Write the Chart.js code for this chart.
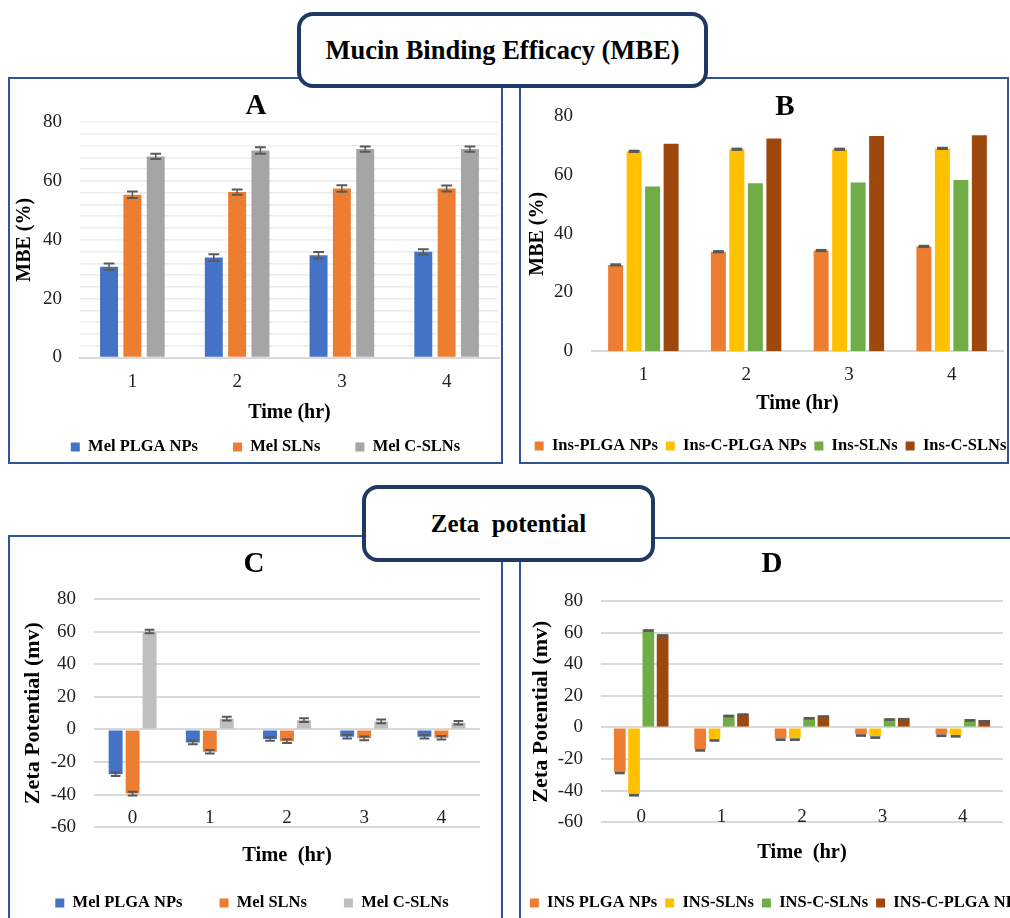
<!DOCTYPE html>
<html><head><meta charset="utf-8">
<script src="https://cdn.jsdelivr.net/npm/chart.js@4.4.1/dist/chart.umd.min.js"></script>
<style>
html,body{margin:0;padding:0;width:1010px;height:918px;overflow:hidden;background:#fff;}
.frame{position:absolute;border:2px solid #2F5597;box-sizing:border-box;z-index:1;}
.tbox{position:absolute;box-sizing:border-box;border:4px solid #1F3864;border-radius:16px;background:#fff;display:flex;align-items:center;justify-content:center;font-family:'Liberation Serif','Times New Roman',serif;font-weight:bold;color:#000;white-space:pre;z-index:5;}
canvas{position:absolute;z-index:2;}
</style></head><body>
<div class="frame" style="left:8px;top:77px;width:495px;height:387px"></div>
<div class="frame" style="left:519px;top:77px;width:490px;height:387px"></div>
<div class="frame" style="left:8px;top:535px;width:495px;height:420px"></div>
<div class="frame" style="left:519px;top:537px;width:560px;height:420px"></div>
<div class="tbox" style="left:297px;top:12px;width:411px;height:76px;font-size:26.5px">Mucin Binding Efficacy (MBE)</div>
<div class="tbox" style="left:362px;top:485px;width:293px;height:77px;font-size:25px">Zeta  potential</div>
<canvas id="cA"></canvas>
<canvas id="cB"></canvas>
<canvas id="cC"></canvas>
<canvas id="cD"></canvas>
<script>
const FONT = "'Liberation Serif', 'Times New Roman', Times, serif";

// ---- Panel A : Mucin binding efficacy, Mel formulations ----
const timeA = ['1', '2', '3', '4'];
const melPlgaMBE = [30.8, 34.0, 34.7, 35.9];
const melPlgaMBEErr = [1.1, 1.1, 1.1, 0.9];
const melSlnMBE = [55.3, 56.2, 57.4, 57.4];
const melSlnMBEErr = [1.1, 0.9, 1.1, 1.0];
const melCslnMBE = [68.3, 70.3, 70.8, 70.8];
const melCslnMBEErr = [0.9, 1.1, 0.9, 0.9];

// ---- Panel B : Mucin binding efficacy, Ins formulations ----
const timeB = ['1', '2', '3', '4'];
const insPlgaMBE = [29.4, 33.9, 34.3, 35.7];
const insPlgaMBEErr = [0.55, 0.55, 0.55, 0.55];
const insCPlgaMBE = [68.1, 68.8, 68.8, 69.1];
const insCPlgaMBEErr = [0.55, 0.55, 0.55, 0.55];
const insSlnMBE = [56.1, 57.2, 57.5, 58.3];
const insCSlnMBE = [70.7, 72.5, 73.3, 73.6];

// ---- Panel C : Zeta potential, Mel formulations ----
const timeC = ['0', '1', '2', '3', '4'];
const melPlgaZeta = [-27.5, -8.0, -5.9, -4.5, -4.5];
const melPlgaZetaErr = [1.1, 1.1, 1.1, 1.1, 1.1];
const melSlnZeta = [-39.4, -13.7, -7.2, -5.5, -5.1];
const melSlnZetaErr = [1.1, 1.1, 1.1, 1.1, 1.1];
const melCslnZeta = [60.1, 6.6, 5.7, 4.9, 4.1];
const melCslnZetaErr = [1.1, 1.1, 1.1, 1.1, 1.1];

// ---- Panel D : Zeta potential, INS formulations ----
const timeD = ['0', '1', '2', '3', '4'];
const insPlgaZeta = [-28.0, -13.7, -6.9, -4.3, -4.4];
const insSlnZeta = [-42.1, -7.4, -6.9, -5.6, -4.8];
const insCSlnZeta = [62.1, 8.0, 6.6, 5.8, 5.3];
const insCPlgaZeta = [58.9, 8.8, 7.6, 6.0, 4.7];
const zetaErrD = [1.7, 1.7, 1.7, 1.7, 1.7];

const C_BLUE = '#4472C4', C_ORANGE = '#ED7D31', C_GRAY = '#A5A5A5', C_LGRAY = '#BFBFBF';
const C_YELLOW = '#FFC000', C_GREEN = '#70AD47', C_BROWN = '#9E480E';

const errorBarPlugin = {
  id: 'errorBars',
  afterDatasetsDraw(chart) {
    const ctx = chart.ctx, ys = chart.scales.y;
    chart.data.datasets.forEach((ds, di) => {
      if (!ds.errors) return;
      const meta = chart.getDatasetMeta(di);
      meta.data.forEach((bar, i) => {
        const v = ds.data[i], e = ds.errors[i], w = bar.width;
        ctx.save();
        ctx.strokeStyle = '#595959';
        ctx.fillStyle = '#595959';
        if (ds.errStyle === 'cap') {
          const y1 = ys.getPixelForValue(v + e), y2 = ys.getPixelForValue(v - e);
          const cw = w * ds.capFrac;
          ctx.lineWidth = 1.5;
          ctx.beginPath(); ctx.moveTo(bar.x, y1); ctx.lineTo(bar.x, y2); ctx.stroke();
          ctx.lineWidth = 2;
          ctx.beginPath();
          ctx.moveTo(bar.x - cw / 2, y1); ctx.lineTo(bar.x + cw / 2, y1);
          ctx.moveTo(bar.x - cw / 2, y2); ctx.lineTo(bar.x + cw / 2, y2);
          ctx.stroke();
        } else if (ds.errStyle === 'block') {
          const y1 = ys.getPixelForValue(v + e), y2 = ys.getPixelForValue(v - e);
          const cw = w * ds.capFrac;
          ctx.fillRect(bar.x - cw / 2, Math.min(y1, y2), cw, Math.abs(y2 - y1));
        } else if (ds.errStyle === 'minus') {
          const y1 = ys.getPixelForValue(v), y2 = ys.getPixelForValue(v - e);
          const cw = w * ds.capFrac;
          ctx.fillRect(bar.x - cw / 2, Math.min(y1, y2), cw, Math.abs(y2 - y1));
        }
        ctx.restore();
      });
    });
  }
};

// moves legend / title blocks after layout (does not change the chart area)
const blockNudge = {
  id: 'blockNudge',
  afterLayout(chart, args, opts) {
    const lg = chart.legend;
    if (lg) {
      const h = lg.bottom - lg.top;
      lg.top = opts.legendTop; lg.bottom = opts.legendTop + h;
      lg.left += opts.legendDx; lg.right += opts.legendDx;
    }
    const tb = chart.titleBlock;
    if (tb) { tb.left += opts.titleDx; tb.right += opts.titleDx; }
  }
};

function makePanel(p) {
  const cv = document.getElementById(p.id);
  const itemH = Math.max(p.legFont, p.legBox);
  const legH = itemH + p.legPad + 10;
  const extra = 40;
  cv.width = p.w;
  cv.height = Math.round(p.areaBottom - p.top + p.xHeight + legH + extra);
  cv.style.left = p.left + 'px';
  cv.style.top = p.top + 'px';
  return new Chart(cv, {
    type: 'bar',
    data: {
      labels: p.labels,
      datasets: p.datasets.map(d => Object.assign({
        borderWidth: 0,
        categoryPercentage: p.catPct,
        barPercentage: p.barPct
      }, d))
    },
    options: {
      responsive: false,
      animation: false,
      devicePixelRatio: 1,
      layout: { padding: { top: 0, left: 0, right: 0, bottom: extra } },
      plugins: {
        title: {
          display: true, text: p.title, color: '#000',
          font: { family: FONT, size: 29, weight: 'bold' },
          padding: { top: p.titlePadTop, bottom: p.titlePadBottom }
        },
        legend: {
          position: 'bottom',
          labels: {
            color: '#000', boxWidth: p.legBox, boxHeight: p.legBox, padding: p.legPad,
            font: { family: FONT, size: p.legFont, weight: 'bold' }
          }
        },
        tooltip: { enabled: false },
        blockNudge: { legendTop: p.legCy - p.top - p.legPad - itemH / 2, legendDx: p.legDx, titleDx: p.titleDx }
      },
      scales: {
        x: {
          afterFit: s => { s.height = p.xHeight; },
          ticks: { padding: p.xTickPad, mirror: p.xMirror, color: '#222', font: { family: FONT, size: 19 }, autoSkip: false, maxRotation: 0 },
          grid: { display: false, drawTicks: false },
          border: { display: p.xBorder, color: '#D9D9D9', width: 2 },
          title: {
            display: true, text: p.xTitle, color: '#000',
            font: { family: FONT, size: p.xTitleSize, weight: 'bold' },
            padding: { top: 0, bottom: 0 }
          }
        },
        y: {
          min: p.yMin, max: p.yMax,
          afterFit: s => { s.width = p.yWidth; },
          ticks: {
            stepSize: p.yStep, autoSkip: false, padding: p.yTickPad, color: '#222',
            font: { family: FONT, size: 19 },
            callback: v => (v % p.labelEvery === 0 ? v : '')
          },
          grid: { display: p.gridShow, color: p.gridColor, lineWidth: p.gridWidth, drawTicks: false },
          border: { display: false },
          title: {
            display: true, text: p.yTitle, color: '#000',
            font: { family: FONT, size: p.yTitleSize, weight: 'bold' },
            padding: { top: p.yTitlePad, bottom: 0 }
          }
        },
        pad: {
          type: 'linear', position: 'right', display: true,
          afterFit: s => { s.width = p.rightWidth; },
          ticks: { display: false },
          grid: { display: false, drawTicks: false },
          border: { display: false }
        }
      }
    },
    plugins: [errorBarPlugin, blockNudge]
  });
}

// Panel A
makePanel({
  id: 'cA', left: 10, top: 86, w: 520, areaBottom: 357,
  labels: timeA,
  datasets: [
    { label: 'Mel PLGA NPs', data: melPlgaMBE, errors: melPlgaMBEErr, errStyle: 'cap', capFrac: 0.6, backgroundColor: C_BLUE },
    { label: 'Mel SLNs', data: melSlnMBE, errors: melSlnMBEErr, errStyle: 'cap', capFrac: 0.6, backgroundColor: C_ORANGE },
    { label: 'Mel C-SLNs', data: melCslnMBE, errors: melCslnMBEErr, errStyle: 'cap', capFrac: 0.6, backgroundColor: C_GRAY }
  ],
  catPct: 0.668, barPct: 0.77,
  title: 'A', titlePadTop: 3.6, titlePadBottom: -2.4, titleDx: -14,
  yMin: 0, yMax: 80, yStep: 4, labelEvery: 20, gridShow: true, gridColor: '#ECECEC', gridWidth: 1.5,
  yWidth: 70, rightWidth: 31, yTickPad: 18, yTitle: 'MBE (%)', yTitleSize: 20, yTitlePad: 3,
  xHeight: 67, xTickPad: 13.6, xMirror: false, xBorder: true, xTitle: 'Time (hr)', xTitleSize: 20,
  legFont: 16.5, legBox: 9, legPad: 35, legCy: 447, legDx: -4.5
});

// Panel B
makePanel({
  id: 'cB', left: 522, top: 86, w: 540, areaBottom: 351,
  labels: timeB,
  datasets: [
    { label: 'Ins-PLGA NPs', data: insPlgaMBE, errors: insPlgaMBEErr, errStyle: 'block', capFrac: 0.72, backgroundColor: C_ORANGE },
    { label: 'Ins-C-PLGA NPs', data: insCPlgaMBE, errors: insCPlgaMBEErr, errStyle: 'block', capFrac: 0.72, backgroundColor: C_YELLOW },
    { label: 'Ins-SLNs', data: insSlnMBE, backgroundColor: C_GREEN },
    { label: 'Ins-C-SLNs', data: insCSlnMBE, backgroundColor: C_BROWN }
  ],
  catPct: 0.72, barPct: 0.81,
  title: 'B', titlePadTop: 3.3, titlePadBottom: -8.1, titleDx: -7,
  yMin: 0, yMax: 80, yStep: 20, labelEvery: 20, gridShow: false, gridColor: '#ECECEC', gridWidth: 1,
  yWidth: 70, rightWidth: 59, yTickPad: 19, yTitle: 'MBE (%)', yTitleSize: 20, yTitlePad: 4,
  xHeight: 64.3, xTickPad: 12.6, xMirror: false, xBorder: true, xTitle: 'Time (hr)', xTitleSize: 20,
  legFont: 16.5, legBox: 9, legPad: 8, legCy: 446, legDx: -21.5
});

// Panel C
makePanel({
  id: 'cC', left: 10, top: 540, w: 500, areaBottom: 827,
  labels: timeC,
  datasets: [
    { label: 'Mel PLGA NPs', data: melPlgaZeta, errors: melPlgaZetaErr, errStyle: 'cap', capFrac: 0.7, backgroundColor: C_BLUE },
    { label: 'Mel SLNs', data: melSlnZeta, errors: melSlnZetaErr, errStyle: 'cap', capFrac: 0.7, backgroundColor: C_ORANGE },
    { label: 'Mel C-SLNs', data: melCslnZeta, errors: melCslnZetaErr, errStyle: 'cap', capFrac: 0.7, backgroundColor: C_LGRAY }
  ],
  catPct: 0.66, barPct: 0.82,
  title: 'C', titlePadTop: 7.6, titlePadBottom: 16.6, titleDx: -6,
  yMin: -60, yMax: 80, yStep: 20, labelEvery: 20, gridShow: true, gridColor: '#D9D9D9', gridWidth: 2,
  yWidth: 84, rightWidth: 30, yTickPad: 18, yTitle: 'Zeta Potential (mv)', yTitleSize: 22, yTitlePad: 9.8,
  xHeight: 41.3, xTickPad: -2.4, xMirror: true, xBorder: false, xTitle: 'Time  (hr)', xTitleSize: 20.5,
  legFont: 16.5, legBox: 9, legPad: 37, legCy: 903, legDx: -8
});

// Panel D
makePanel({
  id: 'cD', left: 522, top: 540, w: 540, areaBottom: 822,
  labels: timeD,
  datasets: [
    { label: 'INS PLGA NPs', data: insPlgaZeta, errors: zetaErrD, errStyle: 'minus', capFrac: 0.85, backgroundColor: C_ORANGE },
    { label: 'INS-SLNs', data: insSlnZeta, errors: zetaErrD, errStyle: 'minus', capFrac: 0.85, backgroundColor: C_YELLOW },
    { label: 'INS-C-SLNs', data: insCSlnZeta, errors: zetaErrD, errStyle: 'minus', capFrac: 0.85, backgroundColor: C_GREEN },
    { label: 'INS-C-PLGA NPs', data: insCPlgaZeta, errors: zetaErrD, errStyle: 'minus', capFrac: 0.85, backgroundColor: C_BROWN }
  ],
  catPct: 0.71, barPct: 0.82,
  title: 'D', titlePadTop: 7.6, titlePadBottom: 18.6, titleDx: -20,
  yMin: -60, yMax: 80, yStep: 20, labelEvery: 20, gridShow: true, gridColor: '#D9D9D9', gridWidth: 2,
  yWidth: 79, rightWidth: 59, yTickPad: 18, yTitle: 'Zeta Potential (mv)', yTitleSize: 22, yTitlePad: 6.5,
  xHeight: 43.3, xTickPad: -6.4, xMirror: true, xBorder: false, xTitle: 'Time  (hr)', xTitleSize: 20.5,
  legFont: 16.5, legBox: 9, legPad: 8, legCy: 903, legDx: -16
});
</script>
</body></html>
